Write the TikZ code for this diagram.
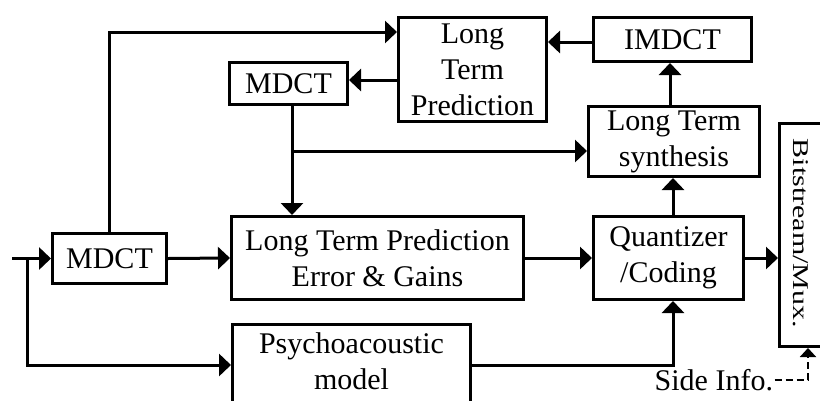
\documentclass[tikz,border=0pt]{standalone}
\usepackage{fontspec}
\setmainfont{Liberation Serif}
\usetikzlibrary{arrows.meta}
\begin{document}
\begin{tikzpicture}[x=1pt,y=-1pt,
  txt/.style={inner sep=0pt, align=center, font=\fontsize{30}{36}\selectfont},
  blk/.style={txt, draw, line width=3pt},
  conn/.style={line width=3pt, -{Triangle[length=12pt,width=22pt]}},
  sideconn/.style={line width=2pt, dash pattern=on 7pt off 4pt, -{Triangle[length=9pt,width=16pt]}},
]
\useasboundingbox (0,0) rectangle (820,400);
\clip (0,0) rectangle (820,400);

% processing blocks
\node[blk, minimum width=114, minimum height=50]  (mdctA) at (109.5,258.5) {MDCT};
\node[blk, minimum width=148, minimum height=104] (ltp)   at (472.5,69.5)  {Long\\Term\\Prediction};
\node[blk, minimum width=158, minimum height=44]  (imdct) at (672.5,39.5)  {IMDCT};
\node[blk, minimum width=118, minimum height=42]  (mdctB) at (288.5,83.5)  {MDCT};
\node[blk, minimum width=171, minimum height=70]  (lts)   at (674,141.5)   {Long Term\\synthesis};
\node[blk, minimum width=150, minimum height=83]  (quant) at (668.5,258)   {Quantizer\\/Coding};
\node[blk, minimum width=292, minimum height=83]  (ltpe)  at (377.5,258)   {Long Term Prediction\\Error \& Gains};
\node[blk, minimum width=238, minimum height=110] (psy)   at (351.5,379.5) {};
\node[txt] (psytxt) at (351.5,361.4) {Psychoacoustic\\model};
\node[blk, minimum width=59, minimum height=223]  (mux)   at (809,235)     {};
\node[txt, rotate=-90] (muxtxt) at (800.7,233.5) {\scalebox{1}[0.75]{Bitstream/Mux.}};
\node[txt, anchor=base west, inner sep=1.5pt] (side) at (653,390) {Side Info.};

% input and its branch to the psychoacoustic model
\coordinate (in) at (12,258.5);
\coordinate (split) at (27,258.5);
\draw[conn] (in) -- (mdctA.west);
\draw[conn] (split) |- ([yshift=14.5pt]psy.west);

% signal paths
\draw[conn] (mdctA.north) |- ([yshift=37.5pt]ltp.west);
\draw[conn] ([yshift=-2.5pt]imdct.west) -- ([yshift=-2.5pt]imdct.west -| ltp.east);
\draw[conn] ([yshift=3.5pt]mdctB.east -| ltp.west) -- ([yshift=3.5pt]mdctB.east);
\draw[conn] ([xshift=3.5pt]mdctB.south) -- ([xshift=3.5pt]mdctB.south |- ltpe.north);
\coordinate (br) at (292,151);
\draw[conn] (br) -- (br -| lts.west);
\draw[conn] ([xshift=-4pt]lts.north) -- ([xshift=-4pt]lts.north |- imdct.south);
\draw[conn] ([xshift=4.5pt]quant.north) -- ([xshift=4.5pt]quant.north |- lts.south);
\draw[conn] (mdctA.east) -- (ltpe.west);
\draw[conn] (ltpe.east) -- (quant.west);
\draw[conn] (quant.east) -- (quant.east -| mux.west);
\draw[conn] ([yshift=14.5pt]psy.east) -| ([xshift=4.5pt]quant.south);

% side information into the multiplexer
\draw[sideconn] (side.east) -| ([xshift=30pt]mux.south west);
\end{tikzpicture}
\end{document}
